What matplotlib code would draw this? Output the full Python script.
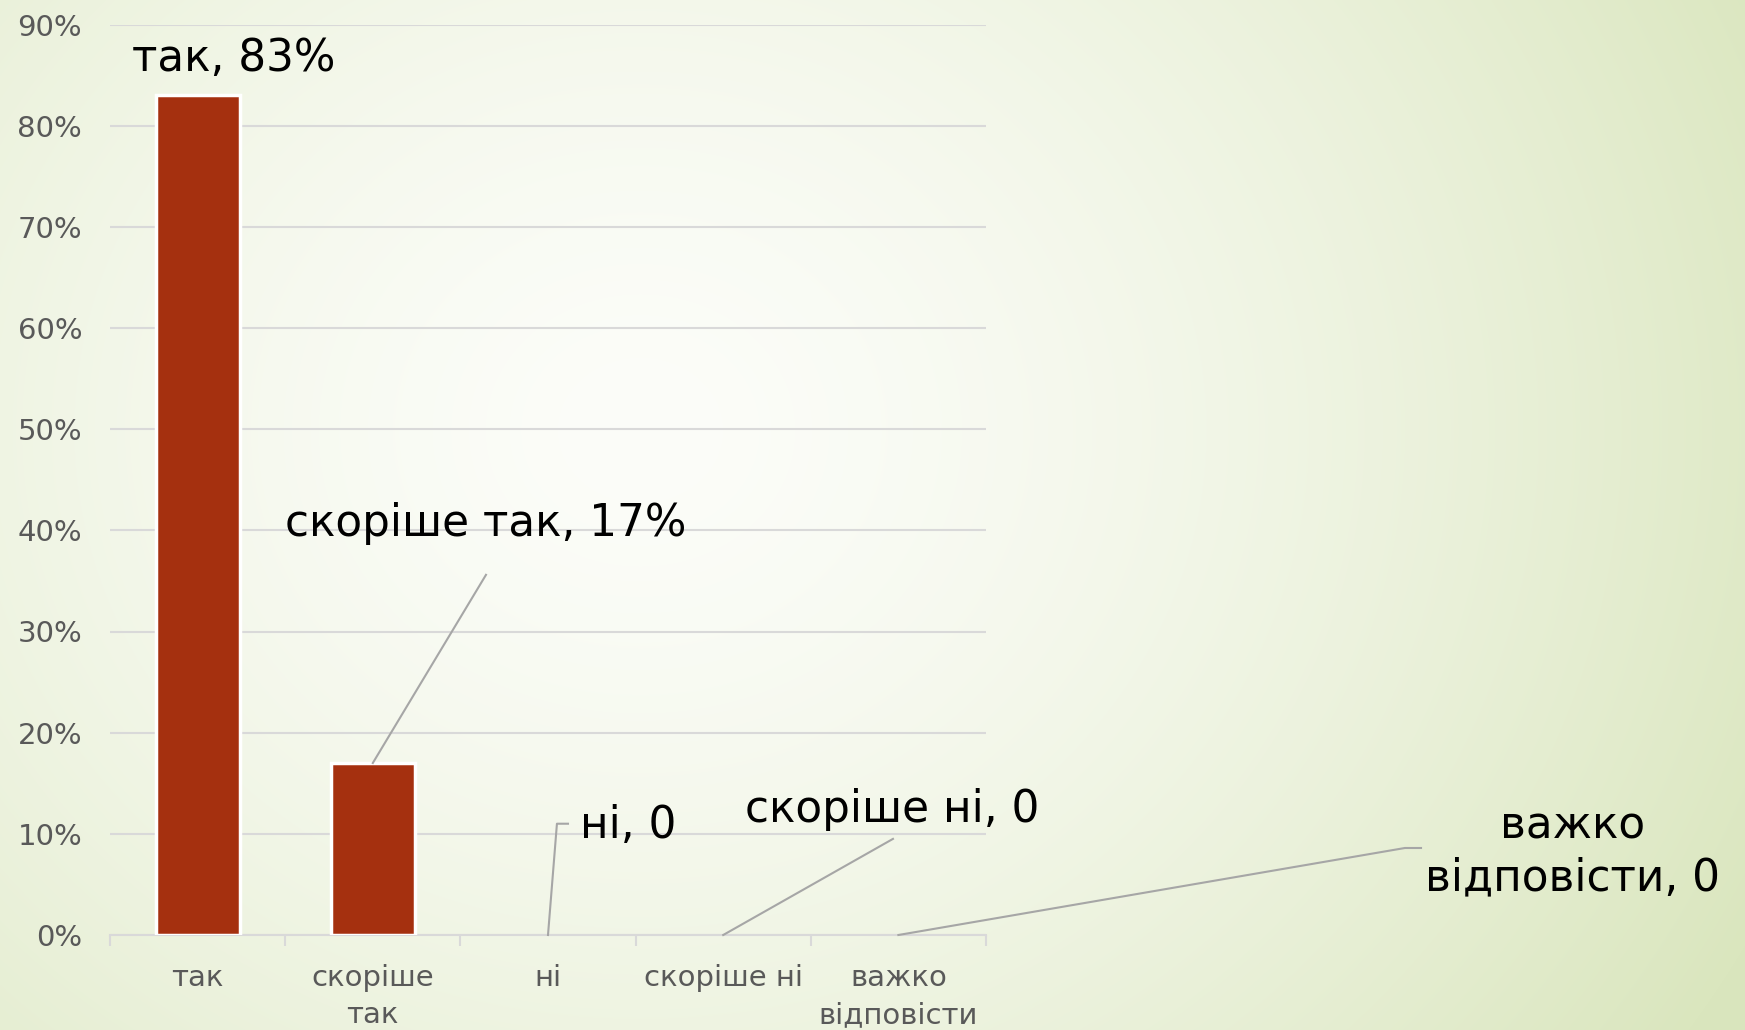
import numpy as np
import matplotlib.pyplot as plt

plt.rcParams['font.family'] = ['DejaVu Sans']

# survey answers and shares
categories = ["так", "скоріше\nтак", "ні", "скоріше ні", "важко\nвідповісти"]
values = [0.83, 0.17, 0.0, 0.0, 0.0]
label_names = ["так", "скоріше так", "ні", "скоріше ні", "важко\nвідповісти"]
yticks = [0.0, 0.1, 0.2, 0.3, 0.4, 0.5, 0.6, 0.7, 0.8, 0.9]

W, H = 1745, 1030
fig = plt.figure(figsize=(W/100, H/100), dpi=100)

# background: soft radial gradient, white centre, light green edges
bg = fig.add_axes([0, 0, 1, 1])
yy, xx = np.mgrid[0:H, 0:W]
r = np.sqrt(((xx - 640)/1250.0)**2 + ((yy - 430)/1100.0)**2)
r = np.clip(r, 0, 1)**1.5
c_in = np.array([252, 253, 249])/255.0
c_out = np.array([218, 230, 190])/255.0
img = c_in[None, None, :]*(1 - r[..., None]) + c_out[None, None, :]*r[..., None]
bg.imshow(img, aspect='auto', extent=[0, 1, 0, 1])
bg.axis('off')

ax = fig.add_axes([110/W, 1 - 935/H, 876/W, 910.5/H])
ax.patch.set_alpha(0)
x = np.arange(len(categories))
lw = [2.5 if v > 0 else 0 for v in values]
ax.bar(x, values, width=0.48, color='#A5300F', edgecolor='white', linewidth=lw, zorder=3)

ax.set_xlim(-0.5, len(categories) - 0.5)
ax.set_ylim(0, 0.9)
ax.set_yticks(yticks)
ax.set_yticklabels([f"{int(round(v*100))}%" for v in yticks], fontsize=21, color='#595959')
ax.tick_params(axis='y', length=0, pad=20)
ax.set_xticks(x)
ax.set_xticklabels(categories, fontsize=21, color='#595959', linespacing=1.4, va='top')
ax.tick_params(axis='x', which='major', length=0, pad=21)
ax.set_xticks(np.arange(-0.5, len(categories)), minor=True)
ax.tick_params(axis='x', which='minor', length=8, width=1.5, color='#D9D9D9', direction='out')
ax.grid(axis='y', color='#D9D9D9', linewidth=1.5, zorder=0)
for s in ['top', 'right', 'left']:
    ax.spines[s].set_visible(False)
ax.spines['bottom'].set_color('#D9D9D9')
ax.spines['bottom'].set_linewidth(1.5)

# data labels with leader lines
lead = '#A6A6A6'
lbl_kw = dict(fontsize=31.5, color='black', zorder=5, clip_on=False)

ax.text(0.208, 0.866, f"{label_names[0]}, {values[0]:.0%}", ha='center', va='center', **lbl_kw)

ax.plot([1, 1.646], [values[1], 0.356], color=lead, lw=1.5, clip_on=False, zorder=4)
ax.text(1.646, 0.407, f"{label_names[1]}, {values[1]:.0%}", ha='center', va='center', **lbl_kw)

ax.plot([2, 2.051, 2.114], [values[2], 0.110, 0.110], color=lead, lw=1.5, clip_on=False, zorder=4)
ax.text(2.18, 0.108, f"{label_names[2]}, {values[2]:.0f}", ha='left', va='center', **lbl_kw)

ax.plot([3, 3.969], [values[3], 0.095], color=lead, lw=1.5, clip_on=False, zorder=4)
ax.text(3.963, 0.1245, f"{label_names[3]}, {values[3]:.0f}", ha='center', va='center', **lbl_kw)

ax.plot([4, 6.891, 6.983], [values[4], 0.086, 0.086], color=lead, lw=1.5, clip_on=False, zorder=4)
ax.text(7.85, 0.082, f"{label_names[4]}, {values[4]:.0f}", ha='center', va='center',
        multialignment='center', linespacing=1.25, **lbl_kw)

fig.savefig('out.png', dpi=100)
